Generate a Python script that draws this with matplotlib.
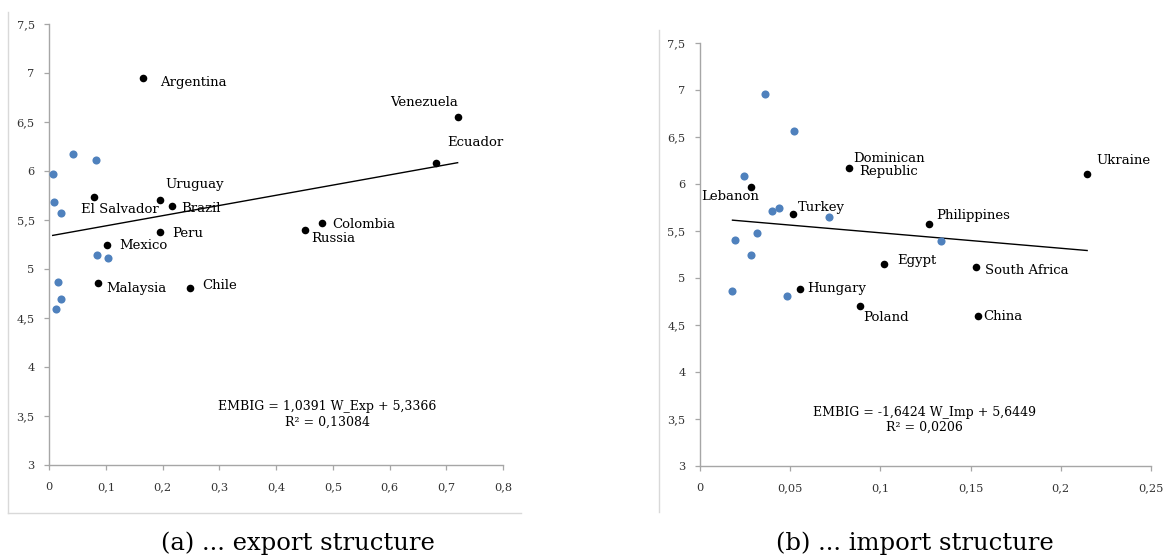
"""
plot.py — EMBIG spread vs. export / import structure weights, two scatter panels
with Excel-style linear trendlines.
"""
import numpy as np
import matplotlib
matplotlib.use("Agg")
import matplotlib.pyplot as plt
from matplotlib.lines import Line2D
from matplotlib.ticker import FuncFormatter, MultipleLocator

plt.rcParams["font.family"] = ["DejaVu Serif"]

# ---- (a) export structure ----
EXP_NAMES = ["Argentina", "Venezuela", "Ecuador", "El Salvador", "Uruguay", "Brazil",
             "Peru", "Colombia", "Russia", "Mexico", "Malaysia", "Chile"]
EXP_X = [0.165, 0.720, 0.681, 0.078, 0.195, 0.216, 0.195, 0.481, 0.451, 0.101, 0.086, 0.248]
EXP_Y = [6.95, 6.55, 6.08, 5.73, 5.70, 5.64, 5.38, 5.47, 5.40, 5.25, 4.855, 4.81]
EXP_OTHER_X = [0.042, 0.083, 0.006, 0.009, 0.021, 0.084, 0.104, 0.016, 0.021, 0.012]
EXP_OTHER_Y = [6.17, 6.11, 5.97, 5.68, 5.57, 5.145, 5.11, 4.87, 4.695, 4.59]
EXP_FIT = [1.0391, 5.3366]
EXP_EQ = "EMBIG = 1,0391 W_Exp + 5,3366\nR² = 0,13084"
# label offsets (points) and alignment
EXP_OFFSETS = {
    "Argentina": (12.7, -3.4, "left"), "Venezuela": (0, 10.6, "right"),
    "Ecuador": (8.5, 14.6, "left"), "El Salvador": (-8.8, -8.9, "left"),
    "Uruguay": (3.7, 11.5, "left"), "Brazil": (6.9, -1.9, "left"),
    "Peru": (8.8, -1.2, "left"), "Colombia": (7.2, -1.0, "left"),
    "Russia": (4.2, -6.5, "left"), "Mexico": (9.0, -1.0, "left"),
    "Malaysia": (5.6, -3.8, "left"), "Chile": (8.5, 1.7, "left"),
}

# ---- (b) import structure ----
IMP_NAMES = ["Lebanon", "Dominican\nRepublic", "Ukraine", "Turkey", "Philippines",
             "Egypt", "South Africa", "Hungary", "Poland", "China"]
IMP_X = [0.0281, 0.0824, 0.2146, 0.0513, 0.127, 0.1022, 0.1528, 0.0554, 0.0885, 0.154]
IMP_Y = [5.97, 6.17, 6.11, 5.68, 5.57, 5.15, 5.115, 4.88, 4.70, 4.60]
IMP_OTHER_X = [0.0361, 0.052, 0.0246, 0.040, 0.044, 0.0717, 0.0317, 0.0196, 0.0281,
               0.1337, 0.018, 0.048]
IMP_OTHER_Y = [6.96, 6.56, 6.085, 5.71, 5.74, 5.65, 5.48, 5.40, 5.25, 5.39, 4.865, 4.81]
IMP_FIT = [-1.6424, 5.6449]
IMP_EQ = "EMBIG = -1,6424 W_Imp + 5,6449\nR² = 0,0206"
IMP_OFFSETS = {
    "Lebanon": (5.8, -7.2, "right"), "Dominican\nRepublic": (28.8, 2.2, "center"),
    "Ukraine": (6.5, 9.4, "left"), "Turkey": (3.6, 5.0, "left"),
    "Philippines": (5.0, 6.5, "left"), "Egypt": (9.4, 2.2, "left"),
    "South Africa": (6.5, -2.2, "left"), "Hungary": (5.0, 0.7, "left"),
    "Poland": (2.9, -7.9, "left"), "China": (3.6, -0.7, "left"),
}

BLUE = "#4f81bd"
AXIS_GREY = "#a6a6a6"
FRAME_GREY = "#d9d9d9"


def comma_fmt(v, _):
    return f"{v:g}".replace(".", ",")


def panel(ax, names, xs, ys, ox, oy, fit, eq, offsets, xmax, xstep, eq_pos):
    ax.scatter(ox, oy, s=34, color=BLUE, zorder=3, linewidths=0)
    ax.scatter(xs, ys, s=30, color="black", zorder=3, linewidths=0)

    allx = np.array(list(xs) + list(ox))
    fx = np.array([allx.min(), allx.max()])
    ax.plot(fx, np.polyval(fit, fx), color="black", lw=1.0, zorder=2)

    for n, x, y in zip(names, xs, ys):
        dx, dy, ha = offsets[n]
        ax.annotate(n, (x, y), xytext=(dx, dy), textcoords="offset points",
                    ha=ha, va="center", fontsize=9.5, multialignment="center",
                    linespacing=1.05)

    ax.text(eq_pos[0], eq_pos[1], eq, transform=ax.transAxes, ha="center",
            va="center", fontsize=9, multialignment="center", linespacing=1.25)

    ax.set_xlim(0, xmax)
    ax.set_ylim(3, 7.5)
    ax.xaxis.set_major_locator(MultipleLocator(xstep))
    ax.yaxis.set_major_locator(MultipleLocator(0.5))
    ax.xaxis.set_major_formatter(FuncFormatter(comma_fmt))
    ax.yaxis.set_major_formatter(FuncFormatter(comma_fmt))
    for s in ("top", "right"):
        ax.spines[s].set_visible(False)
    for s in ("left", "bottom"):
        ax.spines[s].set_color(AXIS_GREY)
        ax.spines[s].set_linewidth(1.0)
    ax.tick_params(axis="both", direction="out", length=3.5, width=0.9,
                   color=AXIS_GREY, labelsize=8.2, labelcolor="#333333")
    ax.tick_params(axis="x", pad=9)
    ax.tick_params(axis="y", pad=7)


fig = plt.figure(figsize=(11.64, 5.59), dpi=100)
W, H = 1164, 559

ax1 = fig.add_axes([49.3 / W, 1 - 465 / H, (503 - 49.3) / W, (465 - 24) / H])
ax2 = fig.add_axes([700 / W, 1 - 466 / H, (1151 - 700) / W, (466 - 43) / H])

panel(ax1, EXP_NAMES, EXP_X, EXP_Y, EXP_OTHER_X, EXP_OTHER_Y, EXP_FIT, EXP_EQ,
      EXP_OFFSETS, 0.8, 0.1, (0.613, 0.1145))
panel(ax2, IMP_NAMES, IMP_X, IMP_Y, IMP_OTHER_X, IMP_OTHER_Y, IMP_FIT, IMP_EQ,
      IMP_OFFSETS, 0.25, 0.05, (0.497, 0.109))

# cropped chart-area borders from the original Excel images
for xs_, ys_ in [((8, 8), (12, 513)), ((8, 521), (513, 513)), ((659, 659), (30, 512))]:
    fig.add_artist(Line2D([x / W for x in xs_], [1 - y / H for y in ys_],
                          color=FRAME_GREY, lw=1.0))

fig.text(298 / W, 1 - 543 / H, "(a) ... export structure", ha="center", va="center",
         fontsize=17.5)
fig.text(915 / W, 1 - 543 / H, "(b) ... import structure", ha="center", va="center",
         fontsize=17.5)

fig.savefig("out.png", dpi=100)
